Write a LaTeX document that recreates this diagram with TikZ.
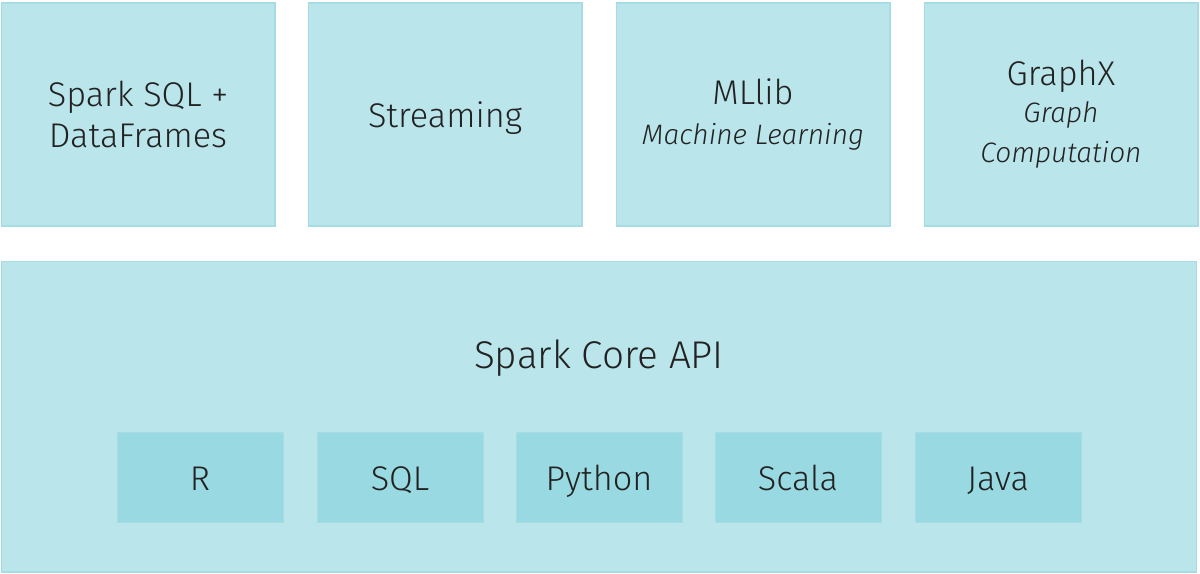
\documentclass[tikz,border=0pt]{standalone}
\usepackage{fontspec}
\setmainfont{Fira Sans}[UprightFont=* Light,ItalicFont=* Light Italic]
\usepackage{tikz}
\usetikzlibrary{positioning}
\definecolor{boxfill}{HTML}{B9E5EB}
\definecolor{boxline}{HTML}{A6DCE4}
\definecolor{langfill}{HTML}{99D9E1}
\definecolor{inktext}{HTML}{222222}
\newcommand{\subtext}[1]{{\fontsize{16}{22}\selectfont\itshape #1}}

\begin{document}
\begin{tikzpicture}[x=0.02cm,y=-0.02cm,
lib/.style={draw=boxline,fill=boxfill,line width=0.6pt,inner sep=0pt,
 minimum width=5.48cm,minimum height=4.46cm,align=center,text=inktext,
 font=\fontsize{19.5}{23}\selectfont},
lang/.style={draw=boxline,fill=langfill,line width=0.4pt,inner sep=0pt,
 minimum width=3.32cm,minimum height=1.8cm,text=inktext,
 text height=16pt,text depth=0.5pt,
 font=\fontsize{19.5}{23}\selectfont}]
\useasboundingbox (0,0) rectangle (1200,574);
\node[draw=boxline,fill=boxfill,line width=0.6pt,minimum width=23.92cm,minimum height=6.22cm,inner sep=0pt] (core) at (599,416.5) {};
\node[text=inktext,font=\fontsize{22}{26}\selectfont] (corelabel) at (599,358) {Spark Core API};
\node[lib] (sql) at (138,114.5) {Spark SQL +\\DataFrames};
\node[lib,text height=15pt,text depth=0.4pt] (streaming) at (445,114.5) {Streaming};
\node[lib] (mllib) at (753,114.5) {MLlib\\\subtext{Machine Learning}};
\node[lib] (graphx) at (1061,114.5) {GraphX\\[-2pt]\subtext{Graph}\\[0pt]\subtext{Computation}};
\node[lang] (r) at (200,477) {R};
\node[lang] (sqlapi) at (400,477) {SQL};
\node[lang] (python) at (599,477) {Python};
\node[lang] (scala) at (798,477) {Scala};
\node[lang] (java) at (998,477) {Java};
\end{tikzpicture}
\end{document}
